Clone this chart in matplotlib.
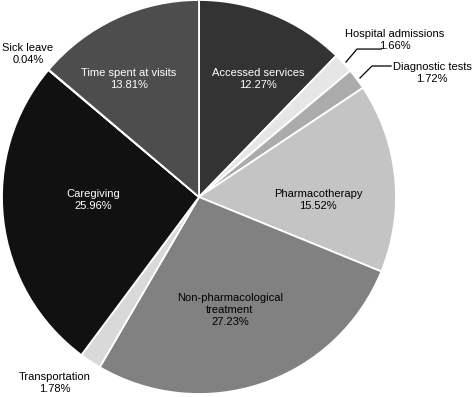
import matplotlib
matplotlib.use("Agg")
import matplotlib.pyplot as plt

categories = ["Accessed services", "Hospital admissions", "Diagnostic tests",
              "Pharmacotherapy", "Non-pharmacological\ntreatment", "Transportation",
              "Caregiving", "Sick leave", "Time spent at visits"]
values = [12.27, 1.66, 1.72, 15.52, 27.23, 1.78, 25.96, 0.04, 13.81]
colors = ["#333333", "#e6e6e6", "#ababab", "#c4c4c4", "#818181", "#d9d9d9",
          "#111111", "#888888", "#4d4d4d"]
text_colors = ["white", "black", "black", "black", "black", "black",
               "white", "black", "white"]
# label anchor positions (data coords of the unit pie)
label_pos = [(0.30, 0.599), (0.995, 0.797), (1.183, 0.629), (0.604, -0.013),
             (0.157, -0.574), (-0.731, -0.944), (-0.538, -0.015),
             (-0.868, 0.726), (-0.355, 0.599)]

plt.rcParams['font.family'] = ['Liberation Sans', 'DejaVu Sans']

fig = plt.figure(figsize=(4.72, 3.97), dpi=100)
ax = fig.add_axes([2 / 472, 3 / 397, 394 / 472, 394 / 397])
ax.pie(values, colors=colors, startangle=90, counterclock=False,
       wedgeprops=dict(edgecolor="white", linewidth=1.3))
ax.set_xlim(-1.0, 1.0)
ax.set_ylim(-1.0, 1.0)
ax.set_aspect("equal")
ax.set_axis_off()
ax.set_clip_on(False)

for cat, val, (x, y), tc in zip(categories, values, label_pos, text_colors):
    ax.text(x, y, f"{cat}\n{val:.2f}%", ha="center", va="center",
            fontsize=8, color=tc, linespacing=1.25, clip_on=False)

# leader lines
ax.plot([0.746, 0.802, 0.925], [0.685, 0.751, 0.751], color="black", lw=0.9, clip_on=False)
ax.plot([0.817, 0.878, 0.975], [0.604, 0.665, 0.665], color="black", lw=0.9, clip_on=False)

fig.savefig("out.png", dpi=100)
